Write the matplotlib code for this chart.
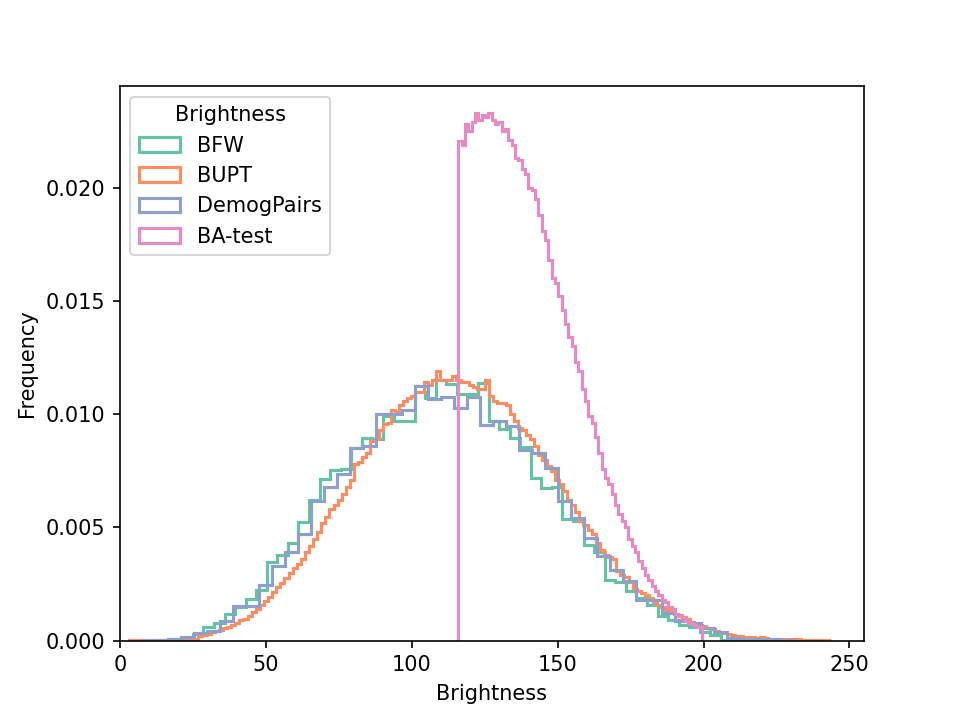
import numpy as np
import matplotlib
matplotlib.use("Agg")
import matplotlib.pyplot as plt

# ---- data (density per bin) ----
series_names = ["BFW", "BUPT", "DemogPairs", "BA-test"]
series_colors = ["#66c2a5", "#fc8d62", "#8da0cb", "#e78ac3"]

bfw_start, bfw_width = 14.1, 3.62
bfw_values = [
    0.00005, 0.0001, 0.0001, 0.0003, 0.00062, 0.00077, 0.00119, 0.0015, 0.00185, 0.00222,
    0.00346, 0.00377, 0.00432, 0.00523, 0.0062, 0.00716, 0.00752, 0.0076, 0.0085, 0.00896,
    0.0089, 0.0099, 0.0097, 0.0097, 0.0110, 0.0107, 0.01151, 0.01132, 0.01088, 0.01091,
    0.01137, 0.0097, 0.00936, 0.00896, 0.00857, 0.00719, 0.00675, 0.0068, 0.00538, 0.00527,
    0.00424, 0.0039, 0.0027, 0.0026, 0.0022, 0.0019, 0.0016, 0.0011, 0.0009, 0.0007,
    0.0006, 0.0004, 0.00026, 0.00003, 0.00003, 0.00003, 0.00003, 0.00003, 0.00003, 0.00003,
    0.00003,
]

bupt_start, bupt_width = 3.0, 1.404
bupt_values = [
    0.00002, 0.00002, 0.00003, 0.00003, 0.00003, 0.00003, 0.00004, 0.00004, 0.00004, 0.00004,
    0.00005, 0.00005, 0.00005, 0.00006, 0.00007, 0.00008, 0.0001, 0.0002, 0.00026, 0.00032,
    0.00037, 0.00042, 0.00049, 0.00055, 0.00061, 0.0007, 0.0008, 0.0009, 0.00098, 0.0011,
    0.00125, 0.0014, 0.0016, 0.00177, 0.00195, 0.00215, 0.00238, 0.00256, 0.00275, 0.003,
    0.0032, 0.0034, 0.00363, 0.0039, 0.0042, 0.0045, 0.0048, 0.0052, 0.00547, 0.0058,
    0.006, 0.0062, 0.0065, 0.0068, 0.0071, 0.0078, 0.0079, 0.0081, 0.0083, 0.0088,
    0.0089, 0.0093, 0.00955, 0.0096, 0.0102, 0.0101, 0.0104, 0.0106, 0.0107, 0.0108,
    0.0110, 0.0110, 0.0114, 0.0113, 0.0115, 0.0119, 0.0115, 0.0115, 0.0115, 0.0117,
    0.0115, 0.0114, 0.0114, 0.0113, 0.0112, 0.0111, 0.0111, 0.0115, 0.0108, 0.0106,
    0.0105, 0.0105, 0.0104, 0.0100, 0.0097, 0.0094, 0.0093, 0.0091, 0.0089, 0.0086,
    0.0082, 0.0080, 0.0077, 0.0075, 0.0071, 0.0069, 0.0066, 0.0062, 0.0060, 0.0057,
    0.0053, 0.0051, 0.0049, 0.0047, 0.0043, 0.0040, 0.0038, 0.0037, 0.0036, 0.0031,
    0.0029, 0.0028, 0.0026, 0.0023, 0.0022, 0.0021, 0.0020, 0.0019, 0.0017, 0.0016,
    0.0015, 0.00135, 0.0013, 0.0012, 0.00113, 0.00105, 0.00095, 0.00082, 0.00075, 0.0007,
    0.00065, 0.00058, 0.0005, 0.00045, 0.0004, 0.00035, 0.0003, 0.00027, 0.00022, 0.0002,
    0.00018, 0.00017, 0.00015, 0.00014, 0.00015, 0.00013, 0.0001, 0.0001, 0.00008, 0.00008,
    0.00007, 0.00007, 0.00006, 0.00006, 0.00005, 0.00004, 0.00004, 0.00004, 0.00003, 0.00003,
    0.00003,
]

demog_start, demog_width = 7.4, 4.456
demog_values = [
    0.00005, 0.00005, 0.0001, 0.00015, 0.00036, 0.00045, 0.00089, 0.00154, 0.00154, 0.00247,
    0.00328, 0.00394, 0.00473, 0.00616, 0.0068, 0.00738, 0.0085, 0.0086, 0.0100, 0.0100,
    0.01019, 0.01125, 0.01069, 0.01078, 0.01029, 0.01078, 0.00951, 0.0097, 0.0095, 0.00842,
    0.0083, 0.00764, 0.00616, 0.00542, 0.00454, 0.00375, 0.00313, 0.00262, 0.0018, 0.0018,
    0.00124, 0.00089, 0.0008, 0.00057, 0.0004, 0.00014, 0.0001, 0.0001, 0.00007, 0.00005,
]

batest_start, batest_width = 116.0, 1.142
batest_values = [
    0.02205, 0.0219, 0.0228, 0.0225, 0.0229, 0.0233, 0.0230, 0.0232, 0.0231, 0.0233,
    0.0230, 0.0228, 0.0229, 0.0225, 0.0226, 0.0221, 0.0219, 0.0213, 0.0212, 0.0208,
    0.0206, 0.0200, 0.0199, 0.0195, 0.0188, 0.0181, 0.0177, 0.0168, 0.0160, 0.0158,
    0.0152, 0.0146, 0.0140, 0.0134, 0.0130, 0.0123, 0.0119, 0.0111, 0.0106, 0.0099,
    0.0096, 0.0090, 0.0083, 0.0076, 0.0072, 0.0069, 0.0065, 0.0060, 0.0056, 0.0053,
    0.0050, 0.0045, 0.0042, 0.0039, 0.0035, 0.0032, 0.0029, 0.0027, 0.0024, 0.0022,
    0.0020, 0.0018, 0.0017, 0.0015, 0.0014, 0.0012, 0.0011, 0.0010, 0.00088, 0.00080,
    0.00072, 0.00066, 0.00060,
]

series = [
    (bfw_start, bfw_width, bfw_values),
    (bupt_start, bupt_width, bupt_values),
    (demog_start, demog_width, demog_values),
    (batest_start, batest_width, batest_values),
]

fig, ax = plt.subplots(figsize=(6.4, 4.8), dpi=150)

for (start, width, vals), name, col in zip(series, series_names, series_colors):
    vals = np.asarray(vals)
    edges = start + width * np.arange(len(vals) + 1)
    ax.hist(edges[:-1], bins=edges, weights=vals, histtype="step",
            color=col, linewidth=1.5, label=name)

ax.set_xlim(0, 255)
ax.set_xlabel("Brightness")
ax.set_ylabel("Frequency")
ax.legend(title="Brightness", loc="upper left")

fig.savefig("out.png", dpi=150)
